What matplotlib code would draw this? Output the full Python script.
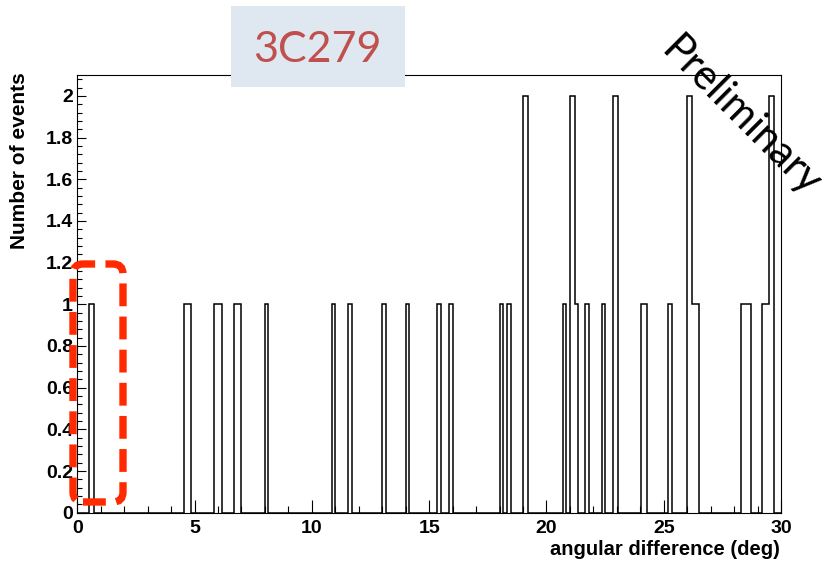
import matplotlib
matplotlib.use("Agg")
import matplotlib.pyplot as plt
from matplotlib.patches import FancyBboxPatch, Rectangle
from matplotlib.ticker import MultipleLocator, FuncFormatter

# non-empty bins of the angular-difference histogram (deg) and their counts
bin_lo = [0.5, 4.55, 5.85, 6.7, 8.0, 10.85, 11.55, 13.0, 14.0, 15.35, 15.85,
          18.0, 18.3, 19.0, 20.7, 21.0, 21.2, 21.65, 22.35, 22.85, 24.05,
          25.2, 26.0, 26.2, 28.3, 29.2, 29.5]
bin_hi = [0.7, 4.85, 6.15, 7.0, 8.15, 11.0, 11.7, 13.15, 14.15, 15.5, 16.0,
          18.15, 18.5, 19.2, 20.85, 21.2, 21.35, 21.8, 22.5, 23.05, 24.3,
          25.35, 26.2, 26.5, 28.7, 29.5, 29.7]
n_events = [1, 1, 1, 1, 1, 1, 1, 1, 1, 1, 1,
            1, 1, 2, 1, 2, 1, 1, 1, 2, 1,
            1, 2, 1, 1, 1, 2]

x_range = (0, 30)
y_range = (0, 2.1)
source_name = "3C279"
x_title = "angular difference (deg)"
y_title = "Number of events"
stamp = "Preliminary"

plt.rcParams["font.family"] = ["Liberation Sans", "DejaVu Sans"]

# stitch the non-empty bins into one contiguous step outline
edges, vals = [x_range[0]], []
for lo, hi, n in zip(bin_lo, bin_hi, n_events):
    if lo > edges[-1]:
        vals.append(0)
        edges.append(lo)
    vals.append(n)
    edges.append(hi)
if edges[-1] < x_range[1]:
    vals.append(0)
    edges.append(x_range[1])

fig = plt.figure(figsize=(8.29, 5.61), dpi=100)
ax = fig.add_axes([0.0932, 0.0861, 0.8489, 0.7802])
ax.stairs(vals, edges, baseline=0, color="black", lw=1.1)

ax.set_xlim(*x_range)
ax.set_ylim(*y_range)
for sp in ax.spines.values():
    sp.set_linewidth(0.8)

ax.xaxis.set_major_locator(MultipleLocator(5))
ax.xaxis.set_minor_locator(MultipleLocator(1))
ax.yaxis.set_major_locator(MultipleLocator(0.2))
ax.yaxis.set_minor_locator(MultipleLocator(0.04))
ax.yaxis.set_major_formatter(FuncFormatter(lambda v, p: f"{v:g}"))
ax.tick_params(axis="both", which="both", direction="in", width=0.8,
               top=False, right=False)
ax.tick_params(axis="x", which="major", length=9.5, pad=5)
ax.tick_params(axis="x", which="minor", length=4.8)
ax.tick_params(axis="y", which="major", length=6.5, pad=3)
ax.tick_params(axis="y", which="minor", length=3.6)
for lab in ax.get_xticklabels() + ax.get_yticklabels():
    lab.set_fontsize(14)
    lab.set_fontweight("bold")

# axis titles, ROOT style: flush with the far end of each axis
fig.text(780 / 829, 1 - 540 / 561, x_title, ha="right", va="top",
         fontsize=14.5, fontweight="bold")
fig.text(20 / 829, 1 - 72 / 561, y_title, ha="center", va="top",
         rotation=90, fontsize=15, fontweight="bold")

# source name box sitting over the top of the frame
fig.add_artist(Rectangle((2.31, 4.74), 1.74, 0.81, transform=fig.dpi_scale_trans,
                         facecolor="#dfe7f1", edgecolor="none", zorder=3))
fig.text(317 / 829, 1 - 50 / 561, source_name, ha="center", va="center",
         fontsize=31, color="#c0504d", family=["Lato", "DejaVu Sans"], zorder=4)

fig.text(741 / 829, 1 - 117 / 561, stamp, ha="center", va="center",
         rotation=-45, fontsize=30, color="black",
         family=["Lato", "DejaVu Sans"], zorder=4)

# dashed highlight around the first bins
fig.add_artist(FancyBboxPatch((0.73, 0.59), 0.50, 2.38,
                              boxstyle="round,pad=0,rounding_size=0.1",
                              transform=fig.dpi_scale_trans, fill=False,
                              edgecolor="#ff2a00", lw=5.3,
                              linestyle=(0, (3.1, 1.4)), zorder=5))

fig.savefig("out.png", dpi=100)
